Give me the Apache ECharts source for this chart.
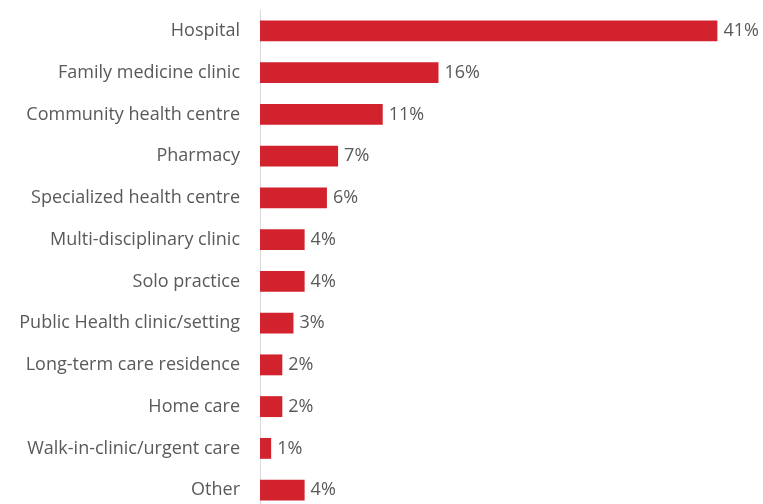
<!DOCTYPE html>
<html>
<head>
<meta charset="utf-8">
<script src="https://cdn.jsdelivr.net/npm/echarts@6/dist/echarts.min.js"></script>
<style>
  html, body { margin: 0; padding: 0; background: #fff; }
  #chart { width: 763px; height: 504px; }
</style>
</head>
<body>
<div id="chart"></div>
<script>
// Practice settings, listed top to bottom
const categories = [
  'Hospital',
  'Family medicine clinic',
  'Community health centre',
  'Pharmacy',
  'Specialized health centre',
  'Multi-disciplinary clinic',
  'Solo practice',
  'Public Health clinic/setting',
  'Long-term care residence',
  'Home care',
  'Walk-in-clinic/urgent care',
  'Other'
];
// Share of respondents (%)
const shares = [41, 16, 11, 7, 6, 4, 4, 3, 2, 2, 1, 4];

const textColor = '#595959';
const barColor = '#d2222d';
const fontFamily = '"Open Sans", Lato, sans-serif';

const chart = echarts.init(document.getElementById('chart'));
chart.setOption({
  animation: false,
  grid: { left: 260, top: 10, width: 502, height: 501, outerBoundsMode: 'none' },
  xAxis: {
    type: 'value',
    min: 0,
    max: 45,
    show: false
  },
  yAxis: {
    type: 'category',
    inverse: true,
    data: categories,
    axisLine: { show: true, lineStyle: { color: '#d9d9d9', width: 1 } },
    axisTick: { show: false },
    axisLabel: {
      margin: 20,
      color: textColor,
      fontSize: 18,
      fontFamily: fontFamily
    }
  },
  series: [{
    type: 'bar',
    data: shares,
    barCategoryGap: '50%',
    itemStyle: { color: barColor },
    label: {
      show: true,
      position: 'right',
      distance: 6,
      formatter: '{c}%',
      color: textColor,
      fontSize: 18,
      fontFamily: fontFamily
    }
  }]
});
</script>
</body>
</html>
